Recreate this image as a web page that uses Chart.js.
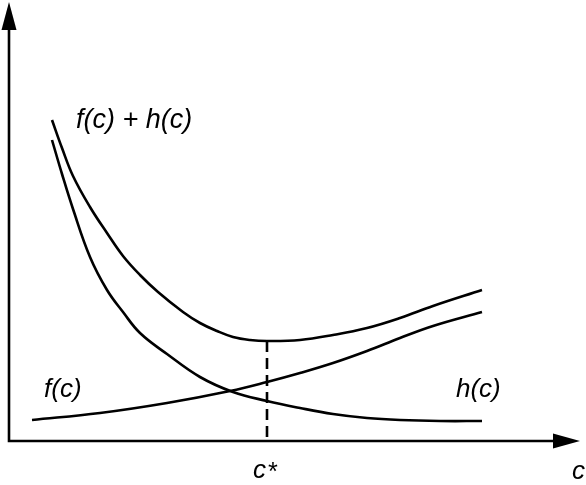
<!DOCTYPE html>
<html>
<head>
<meta charset="utf-8">
<script src="https://cdn.jsdelivr.net/npm/chart.js@4/dist/chart.umd.min.js"></script>
<style>
  html, body { margin: 0; padding: 0; background: #fff; }
  #wrap { width: 586px; height: 485px; position: relative; }
</style>
</head>
<body>
<div id="wrap"><canvas id="costChart" aria-label="f(c), h(c) and f(c) + h(c) against c, minimum at c*"></canvas></div>
<script>
// c values and curve heights (arbitrary units)
const fC = [23, 91, 158, 221, 258, 291, 324, 358, 391, 424, 473];
const fVal = [21, 28, 38, 50, 59, 68, 78, 90, 103, 115, 129];

const hC = [43, 53, 64, 81, 98, 114, 131, 158, 191, 224, 258, 291, 324, 358, 391, 431, 473];
const hVal = [301, 267, 232, 184, 151, 129, 108, 87, 64, 49, 40, 33, 27, 23, 21, 20, 20];

const sumC = [43, 53, 64, 81, 98, 114, 131, 149, 174, 191, 208, 224, 241, 258, 291, 324, 358, 391, 424, 473];
const sumVal = [321, 293, 265, 234, 208, 185, 166, 149, 129, 118, 110, 104, 101, 100, 101, 106, 113, 123, 135, 151];

const cStar = 258;
const cStarVal = 100;

const toPoints = (xs, ys) => xs.map((x, i) => ({ x: x, y: ys[i] }));

const curveStyle = {
    showLine: true,
    borderColor: '#000',
    borderWidth: 2.6,
    pointRadius: 0,
    tension: 0.4,
    fill: false
};

const axesAndLabels = {
    id: 'axesAndLabels',
    afterDraw(chart) {
        const ctx = chart.ctx;
        const xs = chart.scales.x;
        const ys = chart.scales.y;
        const x0 = xs.getPixelForValue(0);
        const y0 = ys.getPixelForValue(0);

        ctx.save();
        ctx.strokeStyle = '#000';
        ctx.fillStyle = '#000';
        ctx.lineWidth = 2.6;

        // axes
        ctx.beginPath();
        ctx.moveTo(x0, y0);
        ctx.lineTo(x0, 20);
        ctx.moveTo(x0 - 1.3, y0);
        ctx.lineTo(566, y0);
        ctx.stroke();

        // arrow heads
        ctx.beginPath();
        ctx.moveTo(x0, 2);
        ctx.lineTo(x0 - 7.5, 30);
        ctx.lineTo(x0 + 7.5, 30);
        ctx.closePath();
        ctx.fill();
        ctx.beginPath();
        ctx.moveTo(580, y0);
        ctx.lineTo(553, y0 - 7.5);
        ctx.lineTo(553, y0 + 7.5);
        ctx.closePath();
        ctx.fill();

        // dashed line at the minimum
        const xm = xs.getPixelForValue(cStar);
        ctx.setLineDash([11, 6]);
        ctx.beginPath();
        ctx.moveTo(xm, ys.getPixelForValue(cStarVal));
        ctx.lineTo(xm, y0);
        ctx.stroke();
        ctx.setLineDash([]);

        // labels
        ctx.font = 'italic 27px "Liberation Sans", Arial, sans-serif';
        ctx.textBaseline = 'alphabetic';
        ctx.textAlign = 'left';
        ctx.fillText('f(c) + h(c)', 76, 128);
        ctx.font = 'italic 26px "Liberation Sans", Arial, sans-serif';
        ctx.fillText('f(c)', 44, 397);
        ctx.fillText('h(c)', 456, 397);
        ctx.fillText('c', 253, 478);
        ctx.fillText('c', 572, 479);
        ctx.font = 'italic 25px "Liberation Sans", Arial, sans-serif';
        ctx.fillText('*', 267, 480);
        ctx.restore();
    }
};

new Chart(document.getElementById('costChart'), {
    type: 'scatter',
    data: {
        datasets: [
            Object.assign({ label: 'f(c)', data: toPoints(fC, fVal) }, curveStyle),
            Object.assign({ label: 'h(c)', data: toPoints(hC, hVal) }, curveStyle),
            Object.assign({ label: 'f(c) + h(c)', data: toPoints(sumC, sumVal) }, curveStyle)
        ]
    },
    options: {
        responsive: true,
        maintainAspectRatio: false,
        animation: false,
        layout: { padding: { left: 9, right: 0, top: 0, bottom: 44 } },
        plugins: {
            legend: { display: false },
            tooltip: { enabled: false }
        },
        scales: {
            x: { type: 'linear', min: 0, max: 577, display: false },
            y: { type: 'linear', min: 0, max: 441, display: false }
        }
    },
    plugins: [axesAndLabels]
});
</script>
</body>
</html>
